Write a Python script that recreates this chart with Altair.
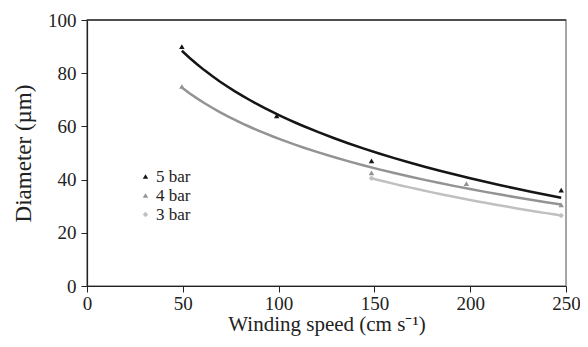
import altair as alt
import pandas as pd

series_5_x = [49.5, 99, 148.5, 247.5]
series_5_y = [90, 64, 47, 36]
series_4_x = [49.5, 148.5, 198, 247.5]
series_4_y = [75, 42.5, 38.5, 30.5]
series_3_x = [148.5, 247.5]
series_3_y = [40.5, 26.5]

names = ["5 bar", "4 bar", "3 bar"]
colors = ["#151515", "#939393", "#c0c0c0"]
shapes = ["triangle-up", "triangle-up", "diamond"]

rows = []
for n, xs, ys in [("5 bar", series_5_x, series_5_y),
                  ("4 bar", series_4_x, series_4_y),
                  ("3 bar", series_3_x, series_3_y)]:
    for x, y in zip(xs, ys):
        rows.append({"series": n, "speed": x, "diameter": y})
df = pd.DataFrame(rows)

FONT = "Liberation Serif"

xs = alt.X("speed:Q", scale=alt.Scale(domain=[0, 250], nice=False),
           axis=alt.Axis(title="Winding speed (cm s\u207b\u00b9)", values=[0, 50, 100, 150, 200, 250],
                         grid=False, labelFont=FONT, titleFont=FONT, labelFlush=False))
ys = alt.Y("diameter:Q", scale=alt.Scale(domain=[0, 100], nice=False),
           axis=alt.Axis(title="Diameter (\u00b5m)", values=[0, 20, 40, 60, 80, 100], grid=False,
                         labelFont=FONT, titleFont=FONT, labelFlush=False))

leg = dict(title=None, orient="none", legendX=50, legendY=148,
           labelFont=FONT, labelFontSize=17, labelColor="#222",
           symbolSize=30, rowPadding=1, labelOffset=2, symbolStrokeWidth=0)

color = alt.Color("series:N", scale=alt.Scale(domain=names, range=colors),
                  legend=alt.Legend(**leg))

lines = alt.Chart(df).transform_regression(
    "speed", "diameter", method="log", groupby=["series"]
).mark_line(strokeWidth=2.5).encode(
    x=xs, y=ys, color=color,
)

points = alt.Chart(df).mark_point(filled=True, size=30, opacity=1).encode(
    x=xs, y=ys, color=color,
    shape=alt.Shape("series:N", scale=alt.Scale(domain=names, range=shapes),
                    legend=alt.Legend(**leg)),
)

top = alt.Chart(pd.DataFrame({"v": [100]})).mark_rule(color="#333", strokeWidth=1.5).encode(
    y=alt.Y("v:Q", scale=alt.Scale(domain=[0, 100])))

chart = alt.layer(lines, points, top).properties(
    width=479, height=266,
    autosize=alt.AutoSizeParams(type="none"),
    padding={"left": 79, "top": 12, "right": 14, "bottom": 52},
).configure(font=FONT).configure_view(stroke="#888", strokeWidth=1.5).configure_axis(
    labelFont=FONT, titleFont=FONT, labelFontSize=19, titleFontSize=21,
    labelColor="#222", titleColor="#222", titleFontWeight="normal",
    domainColor="#222", tickColor="#222", tickSize=6, domainWidth=1.2,
    labelPadding=5,
).configure_axisY(titlePadding=12, titleFontSize=23).configure_axisX(titlePadding=0, labelPadding=2)

chart.save("out.html", embed_options={"renderer": "svg", "actions": False})
